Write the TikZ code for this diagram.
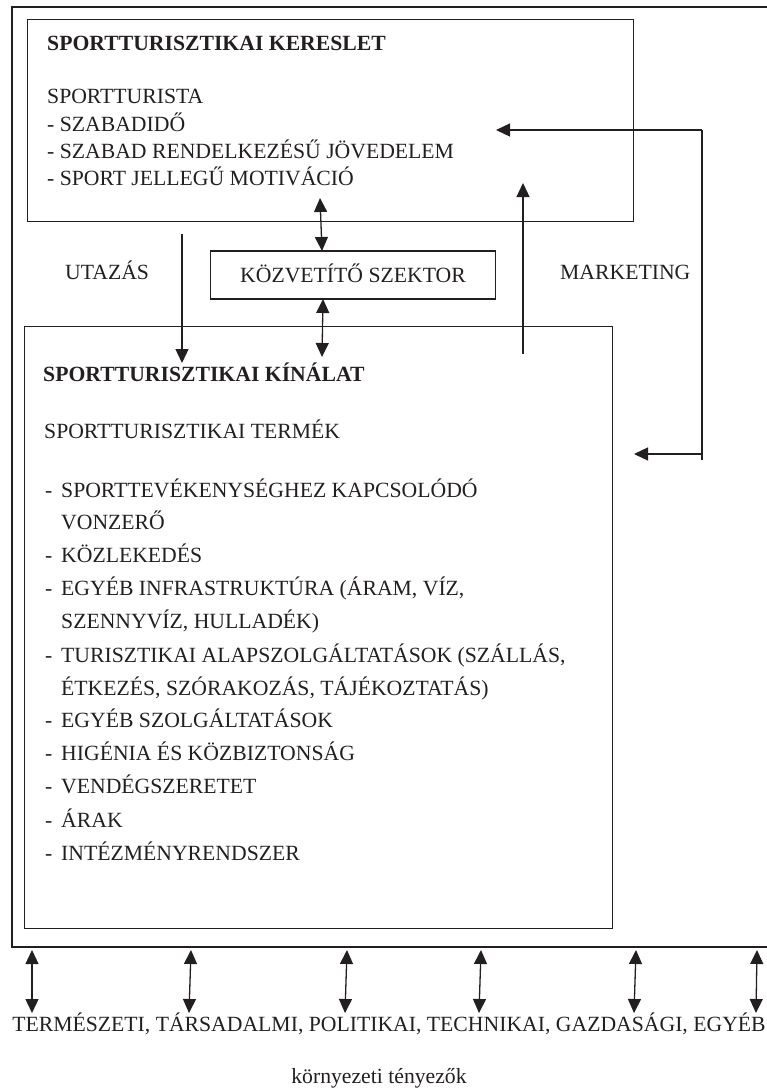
\documentclass[tikz,border=0pt]{standalone}
\usepackage{fontspec}
\setmainfont{Liberation Serif}
\usetikzlibrary{positioning}
\usetikzlibrary{arrows.meta}
\definecolor{ink}{RGB}{35,31,32}
\newcommand{\tetel}[1]{\makebox[16pt][l]{-}#1}
\tikzset{
    keretn/.style = {rectangle, draw=ink, line width=2.3pt, anchor=north west, inner sep=0},
    boxn/.style = {rectangle, draw=ink, line width=1.3pt, anchor=north west, inner sep=0},
    textn/.style = {font=\fontsize{21.7}{27}\selectfont, text=ink, inner sep=0, anchor=base west},
    titlen/.style = {textn, font=\fontsize{21.7}{27}\selectfont\bfseries},
    arrown/.style = {-{Triangle[length=14pt,width=13pt]}, line width=1.3pt, ink},
    arrowd/.style = {{Triangle[length=14pt,width=13pt]}-{Triangle[length=14pt,width=13pt]}, line width=1.3pt, ink},
    linen/.style = {-, line width=1.3pt, ink}
}
\begin{document}
\begin{tikzpicture}[x=1pt,y=-1pt]
\useasboundingbox (0,0) rectangle (766,1090);

% boxes
\node[keretn, minimum width=762pt, minimum height=940pt] at (11,6) (keret) {};
\node[boxn, minimum width=606pt, minimum height=202pt] at (27,19) (kereslet) {};
\node[boxn, minimum width=285pt, minimum height=48pt, anchor=center] at (353,275) (kozvetito) {};
\node[boxn, minimum width=588pt, minimum height=602pt] at (24,326) (kinalat) {};

% kereslet
\node[titlen] at (47,50) (kereslet-cim) {SPORTTURISZTIKAI KERESLET};
\node[textn] at (47,103) (k1) {SPORTTURISTA};
\node[textn] at (47,131) (k2) {- SZABADIDŐ};
\node[textn] at (47,158) (k3) {- SZABAD RENDELKEZÉSŰ JÖVEDELEM};
\node[textn] at (47,185) (k4) {- SPORT JELLEGŰ MOTIVÁCIÓ};

% middle
\node[textn, anchor=base] at (353,282) (kozvetito-szoveg) {KÖZVETÍTŐ SZEKTOR};
\node[textn] at (65,279) (utazas) {UTAZÁS};
\node[textn] at (560,279) (marketing) {MARKETING};

% kinalat
\node[titlen] at (43,381) (kinalat-cim) {SPORTTURISZTIKAI KÍNÁLAT};
\node[textn] at (44,438) (termek) {SPORTTURISZTIKAI TERMÉK};
\node[textn] at (45,497) (t1) {\tetel{SPORTTEVÉKENYSÉGHEZ KAPCSOLÓDÓ}};
\node[textn] at (61,529) (t1b) {VONZERŐ};
\node[textn] at (45,562) (t2) {\tetel{KÖZLEKEDÉS}};
\node[textn] at (45,595) (t3) {\tetel{EGYÉB INFRASTRUKTÚRA (ÁRAM, VÍZ,}};
\node[textn] at (61,628) (t3b) {SZENNYVÍZ, HULLADÉK)};
\node[textn] at (45,662) (t4) {\tetel{TURISZTIKAI ALAPSZOLGÁLTATÁSOK (SZÁLLÁS,}};
\node[textn] at (61,695) (t4b) {ÉTKEZÉS, SZÓRAKOZÁS, TÁJÉKOZTATÁS)};
\node[textn] at (45,727) (t5) {\tetel{EGYÉB SZOLGÁLTATÁSOK}};
\node[textn] at (45,760) (t6) {\tetel{HIGÉNIA ÉS KÖZBIZTONSÁG}};
\node[textn] at (45,793) (t7) {\tetel{VENDÉGSZERETET}};
\node[textn] at (45,827) (t8) {\tetel{ÁRAK}};
\node[textn] at (45,860) (t9) {\tetel{INTÉZMÉNYRENDSZER}};

% environment
\node[textn, anchor=base] at (389,1031) (tenyezok) {TERMÉSZETI, TÁRSADALMI, POLITIKAI, TECHNIKAI, GAZDASÁGI, EGYÉB};
\node[textn, anchor=base] at (379,1083) (kornyezet) {környezeti tényezők};

% arrow ends
\coordinate (utazas-be) at (182,234);
\coordinate (utazas-ki) at (182,363);
\coordinate (felso-a) at (320,198);
\coordinate (felso-b) at (322,251);
\coordinate (also-a) at (323,299);
\coordinate (also-b) at (322,357);
\coordinate (fel-a) at (523,354);
\coordinate (fel-b) at (523,183);
\coordinate (mkt-also) at (702,460);
\coordinate (mkt-elagazas) at (702,454);
\coordinate (mkt-felso) at (702,130);
\coordinate (mkt-kereslet) at (496,130);
\coordinate (mkt-kinalat) at (634,454);

\draw[arrown] (utazas-be) -- (utazas-ki);
\draw[arrowd] (felso-a) -- (felso-b);
\draw[arrowd] (also-a) -- (also-b);
\draw[arrown] (fel-a) -- (fel-b);
\draw[linen] (mkt-also) -- (mkt-felso);
\draw[arrown] (mkt-felso) -- (mkt-kereslet);
\draw[arrown] (mkt-elagazas) -- (mkt-kinalat);

% environment arrows
\coordinate (e1a) at (32,950);  \coordinate (e1b) at (32,1013);
\coordinate (e2a) at (191,950); \coordinate (e2b) at (189,1013);
\coordinate (e3a) at (347,950); \coordinate (e3b) at (345,1013);
\coordinate (e4a) at (481,950); \coordinate (e4b) at (479,1013);
\coordinate (e5a) at (636,950); \coordinate (e5b) at (634,1013);
\coordinate (e6a) at (757,950); \coordinate (e6b) at (756,1013);
\draw[arrowd] (e1a) -- (e1b);
\draw[arrowd] (e2a) -- (e2b);
\draw[arrowd] (e3a) -- (e3b);
\draw[arrowd] (e4a) -- (e4b);
\draw[arrowd] (e5a) -- (e5b);
\draw[arrowd] (e6a) -- (e6b);

\end{tikzpicture}
\end{document}
